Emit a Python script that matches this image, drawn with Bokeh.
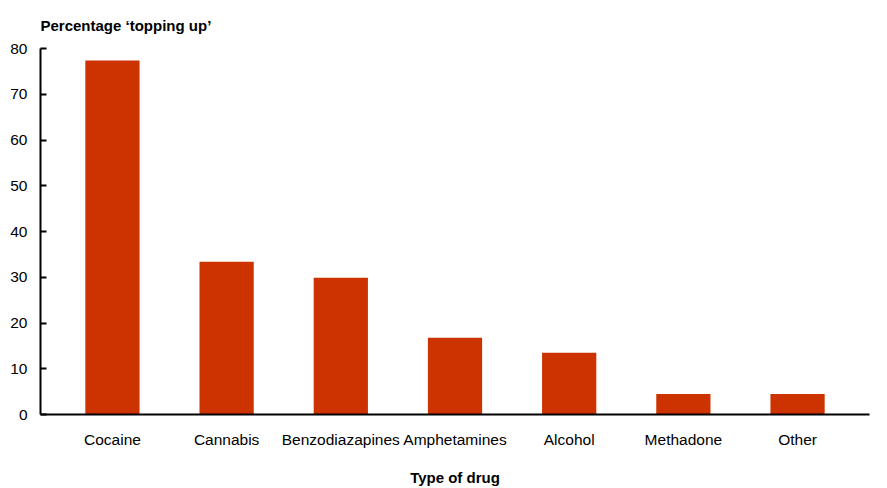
from bokeh.plotting import figure
from bokeh.models import FixedTicker, Range1d, ColumnDataSource
from bokeh.embed import file_html
from bokeh.resources import INLINE

drugs = ["Cocaine", "Cannabis", "Benzodiazapines", "Amphetamines", "Alcohol", "Methadone", "Other"]
pct = [77.4, 33.4, 29.9, 16.8, 13.5, 4.5, 4.5]
y_ticks = [0, 10, 20, 30, 40, 50, 60, 70, 80]

TICK_FONT = "Liberation Sans"
FONT = "Liberation Sans"
pos = list(range(len(drugs)))
src = ColumnDataSource(dict(x=pos, top=pct))

p = figure(width=871, height=488, output_backend="svg", toolbar_location=None,
           x_range=Range1d(-0.63, len(drugs) - 1 + 0.63), y_range=Range1d(0, 80),
           min_border_left=40, min_border_right=2, min_border_top=10, min_border_bottom=74)
p.outline_line_color = None
p.grid.visible = False
p.background_fill_color = "white"

p.title.text = "Percentage \u2018topping up\u2019"
p.title.text_font = FONT
p.title.text_font_size = "15px"
p.title.text_font_style = "bold"
p.title.text_color = "black"
p.title.align = "left"
p.title.offset = 0
p.title.standoff = 29

p.vbar(x="x", top="top", width=0.475, bottom=0, source=src,
       fill_color="#CC3300", line_color=None)

# x axis
xa = p.xaxis[0]
xa.ticker = FixedTicker(ticks=pos)
xa.major_label_overrides = {i: d for i, d in enumerate(drugs)}
xa.major_tick_line_color = None
xa.minor_tick_line_color = None
xa.axis_line_color = "black"
xa.axis_line_width = 2
xa.major_label_standoff = 10
xa.major_label_text_font = TICK_FONT
xa.major_label_text_font_size = "15.5px"
xa.major_label_text_color = "black"
xa.axis_label = "Type of drug"
xa.axis_label_text_font = FONT
xa.axis_label_text_font_size = "15px"
xa.axis_label_text_font_style = "bold"
xa.axis_label_text_color = "black"
xa.axis_label_standoff = 18

# y axis
ya = p.yaxis[0]
ya.ticker = FixedTicker(ticks=y_ticks)
ya.minor_tick_line_color = None
ya.major_tick_in = 6
ya.major_tick_out = 0
ya.major_tick_line_width = 2
ya.major_tick_line_color = "black"
ya.axis_line_color = "black"
ya.axis_line_width = 2
ya.major_label_standoff = 13
ya.major_label_text_font = TICK_FONT
ya.major_label_text_font_size = "15.5px"
ya.major_label_text_color = "black"

open("out.html", "w").write(file_html(p, INLINE))
